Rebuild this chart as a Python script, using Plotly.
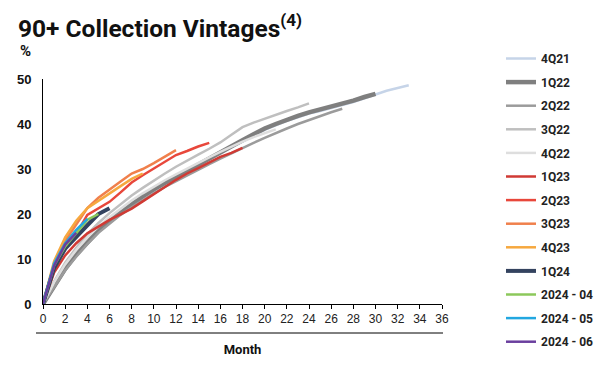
import plotly.graph_objects as go

# ---- data ----
vintages = ["4Q21", "1Q22", "2Q22", "3Q22", "4Q22", "1Q23", "2Q23", "3Q23", "4Q23",
            "1Q24", "2024 - 04", "2024 - 05", "2024 - 06"]

v_4q21 = [0, 3.8, 7.5, 10.7, 13.5, 16.0, 18.2, 20.1, 21.9, 23.6, 25.2, 26.7, 28.0, 29.3, 30.7,
          32.1, 33.5, 34.8, 36.1, 37.4, 38.7, 39.7, 40.7, 41.5, 42.3, 42.9, 43.5, 44.2, 44.9,
          45.7, 46.6, 47.4, 48.0, 48.6]
v_1q22 = [0, 4.0, 7.8, 11.0, 13.8, 16.3, 18.5, 20.4, 22.2, 23.9, 25.5, 27.0, 28.3, 29.6, 31.0,
          32.4, 33.8, 35.1, 36.4, 37.7, 39.0, 40.0, 41.0, 41.8, 42.6, 43.2, 43.8, 44.5, 45.2,
          46.0, 46.7]
v_2q22 = [0, 3.8, 7.5, 10.5, 13.3, 15.8, 17.9, 19.8, 21.5, 23.1, 24.6, 26.0, 27.3, 28.6, 29.9,
          31.1, 32.3, 33.5, 34.7, 35.8, 36.9, 38.0, 39.0, 40.0, 40.9, 41.8, 42.6, 43.4]
v_3q22 = [0, 5.0, 9.2, 12.5, 15.5, 18.0, 20.2, 22.2, 24.1, 25.8, 27.5, 29.0, 30.5, 31.9, 33.2,
          34.5, 35.9, 37.6, 39.3, 40.3, 41.2, 42.1, 42.9, 43.7, 44.6]
v_4q22 = [0, 4.8, 8.8, 12.0, 14.8, 17.2, 19.3, 21.2, 23.0, 24.6, 26.1, 27.5, 28.8, 30.1, 31.4,
          32.6, 33.8, 35.0, 36.1, 37.1, 38.0, 38.8]
v_1q23 = [0, 7.0, 10.8, 13.5, 15.7, 17.3, 18.7, 19.9, 21.2, 22.8, 24.5, 26.0, 27.6, 29.0,
          30.2, 31.5, 32.7, 33.6, 34.7]
v_2q23 = [0, 8.0, 12.2, 15.6, 19.8, 21.2, 22.7, 24.8, 27.0, 28.6, 30.1, 31.7, 33.1, 34.0,
          35.0, 35.8]
v_3q23 = [0, 9.0, 14.0, 17.8, 21.3, 23.6, 25.5, 27.2, 29.0, 30.0, 31.3, 32.8, 34.2]
v_4q23 = [0, 9.5, 14.8, 18.5, 21.3, 23.0, 24.6, 26.2, 27.8, 29.0]
v_1q24 = [0, 8.0, 12.3, 15.0, 17.5, 20.0, 21.3]
v_2024_04 = [0, 8.5, 12.8, 15.8, 18.7, 20.0]
v_2024_05 = [0, 9.0, 13.5, 16.5, 18.9]
v_2024_06 = [0, 8.5, 13.2, 15.8]

series = [v_4q21, v_1q22, v_2q22, v_3q22, v_4q22, v_1q23, v_2q23, v_3q23, v_4q23,
          v_1q24, v_2024_04, v_2024_05, v_2024_06]

x_ticks = list(range(0, 37, 2))
y_ticks = [0, 10, 20, 30, 40, 50]

# ---- styles ----
colors = ["#c6d4e8", "#7f7f7f", "#9b9b9b", "#bfbfbf", "#dedede", "#d03a34", "#e8473b",
          "#f0804c", "#f6a83f", "#34435f", "#8cc85b", "#22a7e0", "#6a3f9e"]
widths = [2.5, 4.5, 2.5, 2.5, 2.5, 2.5, 2.5, 2.5, 2.5, 4, 2.5, 2.5, 2.5]

fig = go.Figure()
for i, (name, vals) in enumerate(zip(vintages, series)):
    fig.add_trace(go.Scatter(
        x=list(range(len(vals))), y=vals, mode="lines", name=name,
        legendgroup=f"g{i}",
        line=dict(color=colors[i], width=widths[i]),
    ))

W, H = 615, 365
L, R, T, B = 43, 442, 79, 304

fig.update_layout(
    width=W, height=H,
    margin=dict(l=L, r=W - R, t=T, b=H - B, pad=0, autoexpand=False),
    paper_bgcolor="white", plot_bgcolor="white",
    showlegend=True,
    title=dict(
        text="90+ Collection Vintages<sup>(4)</sup>",
        x=18 / W, xanchor="left", xref="container",
        y=1 - 28 / H, yanchor="middle", yref="container",
        font=dict(family="Roboto", size=24.5, color="#111111", weight="bold"),
    ),
    legend=dict(
        x=(501 - L) / (R - L), xanchor="left",
        y=(B - 44) / (B - T), yanchor="top",
        font=dict(family="Roboto", size=12, color="#222222", weight="bold"),
        tracegroupgap=4.6,
        traceorder="grouped",
        bgcolor="rgba(0,0,0,0)",
        maxheight=400,
    ),
    xaxis=dict(
        range=[0, 36], tickvals=x_ticks, ticktext=[str(t) for t in x_ticks],
        showline=True, linecolor="black", linewidth=1,
        ticks="outside", ticklen=4, tickcolor="black",
        showgrid=False, zeroline=False, automargin=False,
        tickfont=dict(family="Liberation Sans, Arial", size=12, color="#222222"),
        title=dict(text="Month", standoff=19,
                   font=dict(family="Roboto", size=13, color="#111111", weight="bold")),
    ),
    yaxis=dict(
        range=[0, 50], tickvals=y_ticks, ticktext=[str(t) for t in y_ticks],
        showline=True, linecolor="black", linewidth=1,
        ticks="", showgrid=False, zeroline=False, automargin=False,
        tickfont=dict(family="Liberation Sans, Arial", size=13, color="#111111", weight="bold"),
        ticklabelstandoff=8,
    ),
    annotations=[
        dict(text="%", xref="paper", yref="paper",
             x=(18 - L) / (R - L), y=(B - 51) / (B - T),
             xanchor="left", yanchor="middle", showarrow=False,
             font=dict(family="Roboto", size=15, color="#111111", weight="bold")),
    ],
    shapes=[
        dict(type="line", xref="paper", yref="paper",
             x0=(36 - L) / (R - L), x1=(443 - L) / (R - L),
             y0=(B - 333) / (B - T), y1=(B - 333) / (B - T),
             line=dict(color="black", width=1)),
    ],
)

fig.write_html("out.html", config={"displayModeBar": False},
               post_script="document.body.style.margin='0';")
